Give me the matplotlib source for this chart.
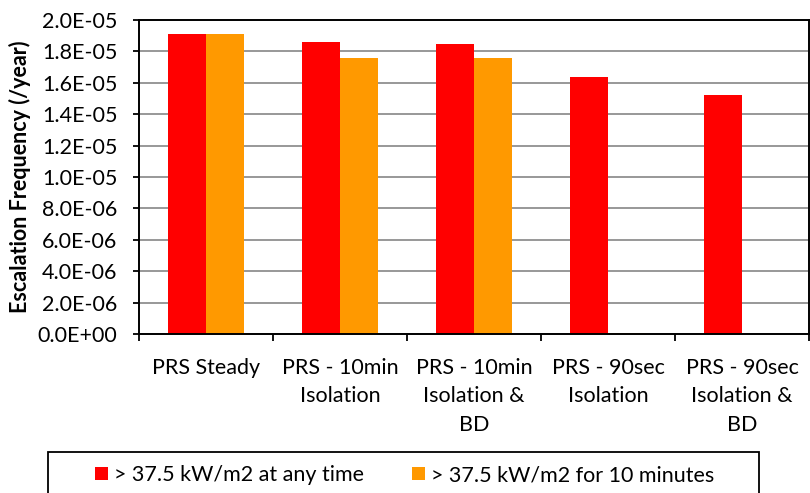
import matplotlib
matplotlib.use("Agg")
import matplotlib.pyplot as plt
import numpy as np
from matplotlib.patches import Rectangle
from matplotlib.ticker import FixedLocator, FuncFormatter

plt.rcParams['font.family'] = ['Lato', 'DejaVu Sans']

categories = ["PRS Steady", "PRS - 10min\nIsolation", "PRS - 10min\nIsolation &\nBD",
              "PRS - 90sec\nIsolation", "PRS - 90sec\nIsolation &\nBD"]
any_time = [1.91e-05, 1.86e-05, 1.85e-05, 1.64e-05, 1.52e-05]
ten_minutes = [1.91e-05, 1.76e-05, 1.76e-05, 5.0e-08, 0.0]
series_labels = ["> 37.5 kW/m2 at any time", "> 37.5 kW/m2 for 10 minutes"]
y_ticks = np.arange(0, 2.01e-05, 2.0e-06)

W, H = 810, 493
fig = plt.figure(figsize=(W / 100, H / 100), dpi=100)
ax = fig.add_axes([139 / W, 1 - 334 / H, 670 / W, 314 / H])

fs = 15.5
x = np.arange(len(categories))
bw = 0.2857
red, orange = "#FF0000", "#FF9900"
b1 = ax.bar(x - bw / 2, any_time, bw, color=red, zorder=3, label=series_labels[0])
b2 = ax.bar(x + bw / 2, ten_minutes, bw, color=orange, zorder=3, label=series_labels[1])

ax.set_xlim(-0.5, len(categories) - 0.5)
ax.set_ylim(0, 2.0e-05)
ax.set_yticks(y_ticks)
ax.yaxis.set_major_formatter(FuncFormatter(lambda v, p: "{:.1E}".format(v)))
ax.tick_params(axis='y', direction='out', length=4.5, width=1.3, pad=11, labelsize=fs)
ax.yaxis.grid(True, color="#868686", linewidth=1.2, zorder=0)

ax.set_xticks(x)
ax.set_xticklabels(categories, fontsize=fs, linespacing=1.55, va='top')
ax.tick_params(axis='x', which='major', length=0, pad=17)
ax.xaxis.set_minor_locator(FixedLocator(np.arange(-0.5, len(categories), 1.0)))
ax.tick_params(axis='x', which='minor', direction='out', length=5, width=1.3)

for s in ax.spines.values():
    s.set_linewidth(1.4)
    s.set_color("black")
    s.set_zorder(4)

ax.set_ylabel("Escalation Frequency (/year)", fontsize=fs, fontweight='bold', labelpad=5)

fig.patches.append(Rectangle((48 / W, -0.1), (759 - 48) / W, 0.1 + (1 - 452 / H),
                             transform=fig.transFigure, fill=False, edgecolor='black',
                             linewidth=1.3))
leg = fig.legend(handles=[b1, b2], loc='center left', bbox_to_anchor=(95 / W, 1 - 475 / H),
                 ncol=2, frameon=False, fontsize=fs, handlelength=0.6, handleheight=0.6,
                 handletextpad=0.3, columnspacing=2.2, borderpad=0, borderaxespad=0)

fig.savefig("out.png", dpi=100)
